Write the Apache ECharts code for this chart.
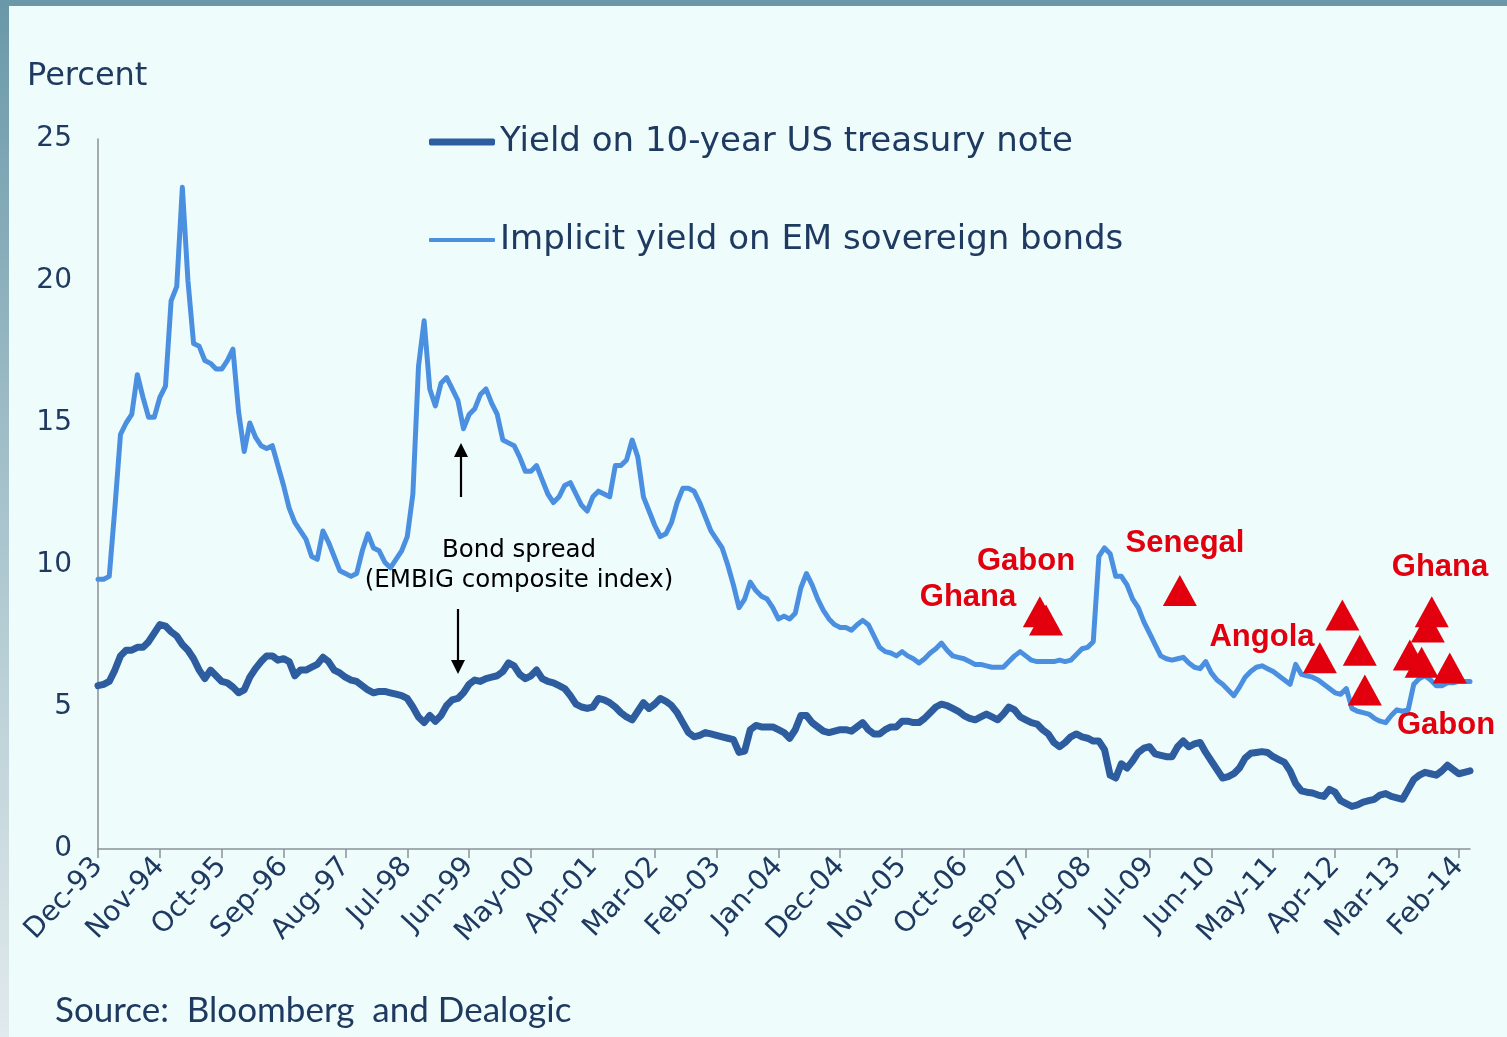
<!DOCTYPE html>
<html>
<head>
<meta charset="utf-8">
<script src="https://cdn.jsdelivr.net/npm/echarts@6/dist/echarts.min.js"></script>
<style>
html,body{margin:0;padding:0;background:#effcfc;}
#chart{width:1507px;height:1037px;}
</style>
</head>
<body>
<div id="chart"></div>
<script>
// ---- Data ----
const monthNames = ['Jan','Feb','Mar','Apr','May','Jun','Jul','Aug','Sep','Oct','Nov','Dec'];
const startYear = 1993, startMonth = 11, nMonths = 245; // Dec-93 .. Apr-14
const categories = [];
for (let i = 0; i < nMonths; i++) {
  const m = (startMonth + i) % 12;
  const y = startYear + Math.floor((startMonth + i) / 12);
  categories.push(monthNames[m] + '-' + String(y % 100).padStart(2, '0'));
}

const usTreasury10y = [
  5.75,5.8,5.9,6.3,6.8,7.0,7.0,7.1,7.1,7.3,7.6,7.9,7.85,7.65,7.5,7.2,7.0,6.7,6.3,6.0,
  6.3,6.1,5.9,5.85,5.7,5.5,5.6,6.05,6.35,6.6,6.8,6.8,6.65,6.7,6.6,6.1,6.3,6.3,6.4,6.5,
  6.75,6.6,6.3,6.2,6.05,5.95,5.9,5.75,5.6,5.5,5.55,5.55,5.5,5.45,5.4,5.3,5.0,4.65,4.45,4.7,
  4.5,4.7,5.05,5.25,5.3,5.5,5.8,5.95,5.9,6.0,6.05,6.1,6.25,6.55,6.45,6.15,6.0,6.1,6.3,6.0,
  5.9,5.85,5.75,5.65,5.4,5.1,5.0,4.95,5.0,5.3,5.25,5.15,5.0,4.8,4.65,4.55,4.85,5.15,4.95,5.1,
  5.3,5.2,5.05,4.8,4.45,4.1,3.95,4.0,4.1,4.05,4.0,3.95,3.9,3.85,3.4,3.45,4.2,4.35,4.3,4.3,
  4.3,4.2,4.1,3.9,4.2,4.7,4.7,4.45,4.3,4.15,4.1,4.15,4.2,4.2,4.15,4.3,4.45,4.2,4.05,4.05,
  4.2,4.3,4.3,4.5,4.5,4.45,4.45,4.6,4.8,5.0,5.1,5.05,4.95,4.85,4.7,4.6,4.55,4.65,4.75,4.65,
  4.55,4.75,5.0,4.9,4.65,4.55,4.45,4.4,4.2,4.05,3.75,3.6,3.75,3.95,4.05,3.95,3.9,3.8,3.8,3.5,
  2.6,2.5,3.0,2.85,3.1,3.4,3.55,3.6,3.35,3.3,3.25,3.25,3.6,3.8,3.6,3.7,3.75,3.4,3.1,2.8,
  2.5,2.55,2.65,2.85,3.2,3.37,3.4,3.43,3.4,3.25,3.15,3.05,2.75,2.3,2.05,2.0,1.97,1.9,1.85,2.1,
  2.0,1.7,1.6,1.5,1.55,1.65,1.7,1.75,1.9,1.95,1.85,1.8,1.75,2.1,2.45,2.6,2.7,2.65,2.6,2.75,
  2.95,2.8,2.65,2.7,2.75
];

const emSovereignYield = [
  9.5,9.5,9.6,12.0,14.6,15.0,15.3,16.7,15.9,15.2,15.2,15.9,16.3,19.3,19.8,23.3,20.0,17.8,17.7,17.2,
  17.1,16.9,16.9,17.2,17.6,15.4,14.0,15.0,14.5,14.2,14.1,14.2,13.5,12.8,12.0,11.5,11.2,10.9,10.3,10.2,
  11.2,10.8,10.3,9.8,9.7,9.6,9.7,10.5,11.1,10.6,10.5,10.1,9.9,10.2,10.5,11.0,12.5,17.0,18.6,16.2,
  15.6,16.4,16.6,16.2,15.8,14.8,15.3,15.5,16.0,16.2,15.7,15.3,14.4,14.3,14.2,13.8,13.3,13.3,13.5,13.0,
  12.5,12.2,12.4,12.8,12.9,12.5,12.1,11.9,12.4,12.6,12.5,12.4,13.5,13.5,13.7,14.4,13.8,12.4,11.9,11.4,
  11.0,11.1,11.5,12.2,12.7,12.7,12.6,12.2,11.7,11.2,10.9,10.6,10.0,9.3,8.5,8.8,9.4,9.1,8.9,8.8,
  8.5,8.1,8.2,8.1,8.3,9.2,9.7,9.3,8.8,8.4,8.1,7.9,7.8,7.8,7.7,7.9,8.05,7.9,7.5,7.1,
  6.95,6.9,6.8,6.95,6.8,6.7,6.55,6.7,6.9,7.05,7.25,7.0,6.8,6.75,6.7,6.6,6.5,6.5,6.45,6.4,
  6.4,6.4,6.6,6.8,6.95,6.8,6.65,6.6,6.6,6.6,6.6,6.65,6.6,6.65,6.85,7.05,7.1,7.3,10.3,10.6,
  10.4,9.6,9.6,9.3,8.8,8.5,8.0,7.6,7.2,6.8,6.7,6.65,6.7,6.75,6.55,6.4,6.35,6.6,6.2,5.95,
  5.8,5.6,5.4,5.7,6.05,6.25,6.4,6.45,6.35,6.25,6.1,5.95,5.8,6.5,6.15,6.1,6.05,5.95,5.8,5.65,
  5.5,5.45,5.65,4.95,4.85,4.8,4.75,4.6,4.5,4.45,4.7,4.9,4.85,4.9,5.8,6.0,6.1,5.95,5.75,5.75,
  5.85,5.85,5.9,5.9,5.9
];

// Eurobond issues (month offset from Dec-93, percent)
const issueMonth = [167.5,168.6,192.4,217.3,221.3,224.4,225.3,233.3,235.4,236.5,237.2,240.4];
const issueLevel = [8.35,8.06,9.1,6.73,8.24,7.0,5.6,6.83,6.58,7.82,8.35,6.37];

const seriesNames = ['Yield on 10-year US treasury note','Implicit yield on EM sovereign bonds'];
const yTicks = {min: 0, max: 25, interval: 5};

// ---- Styles ----
const NAVY = '#1f3a60';
const DARK = '#2d5c9f';
const LIGHT = '#4b90e0';
const RED = '#e2000f';
const F = 'DejaVu Sans, Verdana, sans-serif';

const chart = echarts.init(document.getElementById('chart'), null, {renderer: 'canvas'});

function arrow(x, y1, y2) {
  const dir = y2 > y1 ? 1 : -1;
  return {
    type: 'group', silent: true,
    children: [
      {type: 'line', shape: {x1: x, y1: y1, x2: x, y2: y2 - dir * 12}, style: {stroke: '#000', lineWidth: 2.2}},
      {type: 'polygon', shape: {points: [[x - 7, y2 - dir * 14], [x + 7, y2 - dir * 14], [x, y2]]}, style: {fill: '#000'}}
    ]
  };
}
function redText(x, y, t) {
  return {type: 'text', x: x, y: y, silent: true,
    style: {text: t, fill: RED, font: 'bold 31px "Liberation Sans", Arial, sans-serif', textAlign: 'center', textVerticalAlign: 'middle'}};
}

const option = {
  backgroundColor: '#effcfc',
  animation: false,
  grid: {left: 98, right: 37, top: 139, bottom: 188, containLabel: false},
  legend: [
    {data: [{name: seriesNames[0], icon: 'roundRect', itemStyle: {color: DARK}}], left: 424, top: 117, orient: 'vertical',
     itemWidth: 66, itemHeight: 7,
     textStyle: {color: NAVY, fontSize: 34, fontFamily: F, lineHeight: 40}, selectedMode: false},
    {data: [{name: seriesNames[1], icon: 'roundRect', itemStyle: {color: LIGHT}}], left: 424, top: 215, orient: 'vertical',
     itemWidth: 66, itemHeight: 4,
     textStyle: {color: NAVY, fontSize: 34, fontFamily: F, lineHeight: 40}, selectedMode: false}
  ],
  xAxis: [
    {
      type: 'category', data: categories, boundaryGap: false,
      axisLine: {lineStyle: {color: '#8a9196', width: 1.5}},
      axisTick: {interval: 10, length: 9, lineStyle: {color: '#8a9196', width: 1.5}},
      axisLabel: {interval: 10, rotate: 47, margin: 13, color: NAVY, fontSize: 28, fontFamily: F},
      splitLine: {show: false}
    },
    {type: 'value', min: 0, max: nMonths - 1, show: false, splitLine: {show: false}}
  ],
  yAxis: {
    type: 'value', min: yTicks.min, max: yTicks.max, interval: yTicks.interval,
    axisLine: {show: true, lineStyle: {color: '#8a9196', width: 1.5}},
    axisTick: {show: false},
    splitLine: {show: false},
    axisLabel: {margin: 26, color: NAVY, fontSize: 28, fontFamily: F}
  },
  series: [
    {name: seriesNames[0], type: 'line', data: usTreasury10y, symbol: 'none', xAxisIndex: 0,
     lineStyle: {color: DARK, width: 7, cap: 'round', join: 'round'}, itemStyle: {color: DARK}, z: 3},
    {name: seriesNames[1], type: 'line', data: emSovereignYield, symbol: 'none', xAxisIndex: 0,
     lineStyle: {color: LIGHT, width: 5, cap: 'round', join: 'round'}, itemStyle: {color: LIGHT}, z: 4},
    {name: 'Eurobond issues', type: 'scatter', xAxisIndex: 1,
     data: issueMonth.map((m, k) => [m, issueLevel[k]]),
     symbol: 'triangle', symbolSize: [34, 31], itemStyle: {color: RED, opacity: 1}, z: 5}
  ],
  graphic: [
    {type: 'rect', shape: {x: 0, y: 0, width: 1507, height: 6}, style: {fill: '#6a98a8'}, silent: true},
    {type: 'rect', shape: {x: 0, y: 0, width: 9, height: 1037}, silent: true,
     style: {fill: new echarts.graphic.LinearGradient(0, 0, 0, 1, [
       {offset: 0, color: '#6a98a8'}, {offset: 0.5, color: '#a9c4cd'}, {offset: 1, color: '#e1eaec'}])}},
    {type: 'text', x: 27, y: 77, silent: true,
     style: {text: 'Percent', fill: NAVY, font: '32px "DejaVu Sans", Verdana, sans-serif', textVerticalAlign: 'middle'}},
    {type: 'text', x: 55, y: 1011, silent: true,
     style: {text: 'Source:  Bloomberg  and Dealogic', fill: NAVY, font: '35px Lato, "Open Sans", sans-serif', textVerticalAlign: 'middle'}},
    {type: 'text', x: 519, y: 551, silent: true,
     style: {text: 'Bond spread', fill: '#000', font: '24.5px "DejaVu Sans", Verdana, sans-serif', textAlign: 'center', textVerticalAlign: 'middle'}},
    {type: 'text', x: 519, y: 581, silent: true,
     style: {text: '(EMBIG composite index)', fill: '#000', font: '24.5px "DejaVu Sans", Verdana, sans-serif', textAlign: 'center', textVerticalAlign: 'middle'}},
    arrow(461, 497, 443),
    arrow(458, 609, 674),
    redText(1026, 561, 'Gabon'),
    redText(968, 597, 'Ghana'),
    redText(1185, 543, 'Senegal'),
    redText(1262, 637, 'Angola'),
    redText(1440, 567, 'Ghana'),
    redText(1446, 725, 'Gabon')
  ]
};
chart.setOption(option);
</script>
</body>
</html>
